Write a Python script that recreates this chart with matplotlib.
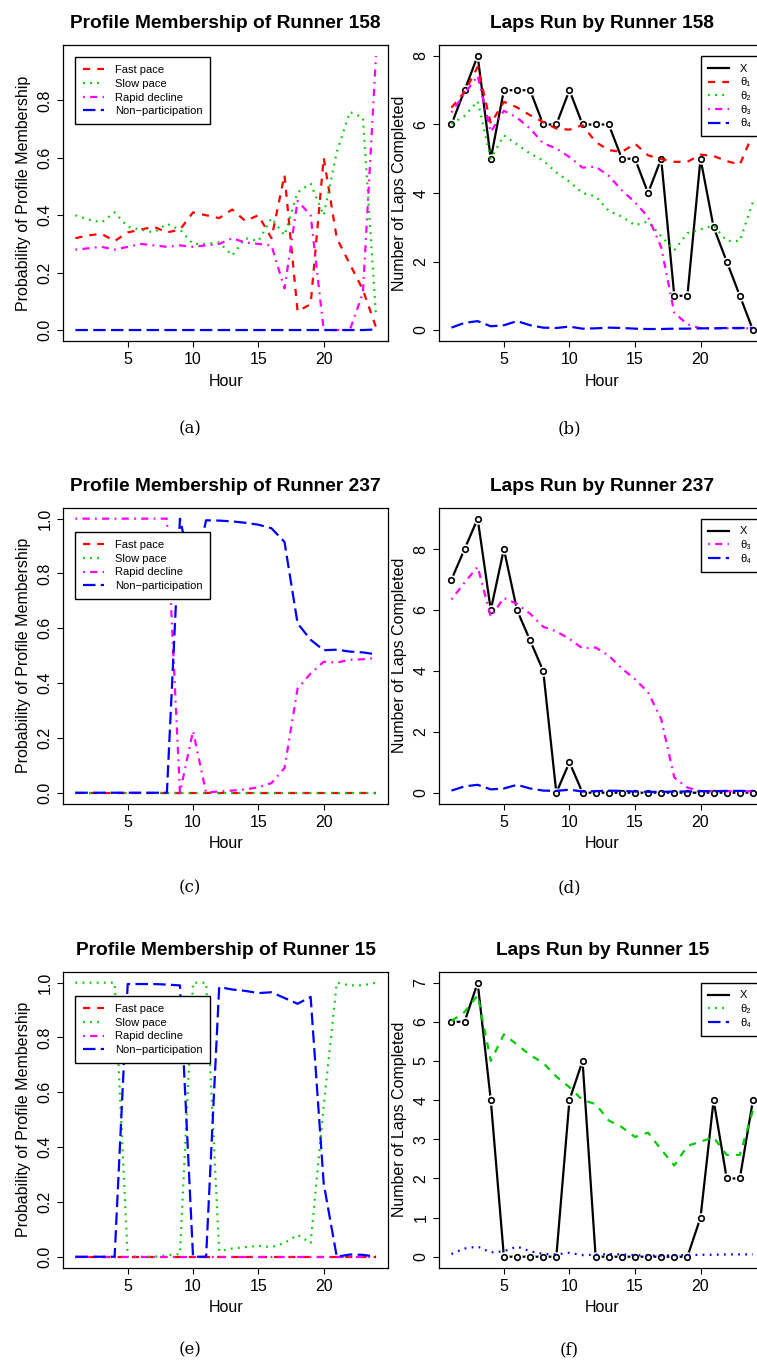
import matplotlib
matplotlib.use("Agg")
import matplotlib.pyplot as plt
import numpy as np
from matplotlib.lines import Line2D

plt.rcParams['font.family'] = ['Liberation Sans', 'DejaVu Sans']

hours = np.arange(1, 25)

# profile membership, runner 158
fast_158 = [0.32, 0.33, 0.335, 0.31, 0.34, 0.35, 0.36, 0.34, 0.35, 0.41, 0.40, 0.39,
            0.42, 0.38, 0.40, 0.32, 0.54, 0.065, 0.09, 0.60, 0.32, 0.23, 0.14, 0.01]
slow_158 = [0.40, 0.385, 0.375, 0.41, 0.36, 0.35, 0.34, 0.37, 0.35, 0.30, 0.30, 0.305,
            0.26, 0.32, 0.31, 0.39, 0.33, 0.48, 0.51, 0.40, 0.62, 0.76, 0.74, 0.05]
rapid_158 = [0.28, 0.285, 0.29, 0.28, 0.29, 0.30, 0.295, 0.29, 0.295, 0.29, 0.295, 0.30,
             0.32, 0.305, 0.30, 0.295, 0.145, 0.45, 0.40, 0.0, 0.0, 0.0, 0.13, 0.955]
nonpart_158 = [0.0, 0.0, 0.0, 0.0, 0.0, 0.0, 0.0, 0.0, 0.0, 0.0, 0.0, 0.0,
               0.0, 0.0, 0.0, 0.0, 0.0, 0.0, 0.0, 0.0, 0.0, 0.0, 0.0, 0.002]

# profile membership, runner 237
fast_237 = [0.0] * 24
slow_237 = [0.0] * 24
rapid_237 = [1.0, 1.0, 1.0, 1.0, 1.0, 1.0, 1.0, 1.0, 0.0, 0.225, 0.0, 0.005,
             0.008, 0.012, 0.02, 0.035, 0.09, 0.38, 0.435, 0.478, 0.475, 0.485, 0.487, 0.492]
nonpart_237 = [0.0, 0.0, 0.0, 0.0, 0.0, 0.0, 0.0, 0.0, 1.0, 0.78, 0.994, 0.993,
               0.99, 0.985, 0.978, 0.965, 0.915, 0.618, 0.558, 0.52, 0.522, 0.515, 0.512, 0.505]

# profile membership, runner 15
fast_15 = [0.0] * 24
slow_15 = [1.0, 1.0, 1.0, 1.0, 0.0, 0.0, 0.0, 0.005, 0.01, 1.0, 1.0, 0.02,
           0.03, 0.035, 0.04, 0.035, 0.05, 0.08, 0.05, 0.55, 1.0, 0.99, 0.99, 1.0]
rapid_15 = [0.0] * 24
nonpart_15 = [0.0, 0.0, 0.0, 0.0, 0.995, 0.995, 0.995, 0.993, 0.99, 0.0, 0.0, 0.984,
              0.975, 0.97, 0.962, 0.965, 0.944, 0.923, 0.948, 0.267, 0.0, 0.008, 0.007, 0.0]

# laps per hour
laps_158 = [6, 7, 8, 5, 7, 7, 7, 6, 6, 7, 6, 6, 6, 5, 5, 4, 5, 1, 1, 5, 3, 2, 1, 0]
laps_237 = [7, 8, 9, 6, 8, 6, 5, 4, 0, 1, 0, 0, 0, 0, 0, 0, 0, 0, 0, 0, 0, 0, 0, 0]
laps_15 = [6, 6, 7, 4, 0, 0, 0, 0, 0, 4, 5, 0, 0, 0, 0, 0, 0, 0, 0, 1, 4, 2, 2, 4]

# profile means
theta1 = [6.49, 6.95, 7.68, 6.03, 6.66, 6.5, 6.27, 6.07, 5.88, 5.85, 5.98, 5.49,
          5.25, 5.2, 5.44, 5.1, 4.99, 4.91, 4.91, 5.12, 5.08, 4.93, 4.83, 5.73]
theta2 = [6.02, 6.25, 6.68, 5.0, 5.68, 5.42, 5.15, 4.95, 4.6, 4.33, 4.0, 3.9,
          3.48, 3.31, 3.06, 3.17, 2.74, 2.33, 2.83, 2.94, 3.05, 2.6, 2.6, 3.74]
theta3 = [6.35, 6.9, 7.42, 5.78, 6.4, 6.2, 5.88, 5.45, 5.3, 5.05, 4.74, 4.77,
          4.5, 4.08, 3.73, 3.3, 2.42, 0.5, 0.17, 0.05, 0.05, 0.05, 0.05, 0.05]
theta4 = [0.07, 0.21, 0.26, 0.11, 0.14, 0.26, 0.14, 0.07, 0.06, 0.1, 0.04, 0.05,
          0.07, 0.06, 0.04, 0.03, 0.03, 0.04, 0.04, 0.05, 0.05, 0.06, 0.06, 0.06]

profile_names = ['Fast pace', 'Slow pace', 'Rapid decline', 'Non\u2212participation']
colors = ['red', '#00CD00', 'magenta', 'blue']
LS = {'dashed': (0, (3.2, 3.2)), 'dotted': (0, (0.8, 2.4)),
      'dotdash': (0, (0.8, 2.4, 3.2, 2.4)), 'longdash': (0, (5.6, 2.4))}
prof_ls = ['dashed', 'dotted', 'dotdash', 'longdash']
LW = 1.6

fig = plt.figure(figsize=(7.57, 13.7), dpi=100)
W, H = 757.0, 1370.0
row_tops = [45, 507.7, 971.7]
ax_h = 296.0


def make_axes(left, width, top):
    return fig.add_axes([left / W, 1 - (top + ax_h) / H, width / W, ax_h / H])


def style(ax, title, ylabel, yticks, ylabels):
    ax.margins(x=0.04, y=0.04)
    ax.set_title(title, fontsize=13.8, fontweight='bold', pad=12)
    ax.set_xlabel('Hour', fontsize=11.5, labelpad=5)
    ax.set_ylabel(ylabel, fontsize=11.5, labelpad=5)
    ax.set_xticks([5, 10, 15, 20])
    ax.set_yticks(yticks)
    ax.set_yticklabels(ylabels, rotation=90, va='center')
    ax.tick_params(direction='out', length=4.3, width=0.8, labelsize=11.5, pad=3.5)
    for s in ax.spines.values():
        s.set_linewidth(0.9)


def legend(ax, handles, labels, anchor):
    ax.legend(handles, labels, loc='upper left', bbox_to_anchor=anchor,
              bbox_transform=ax.transData, borderaxespad=0, fontsize=8,
              fancybox=False, edgecolor='black', framealpha=1, handlelength=1.9,
              handletextpad=0.95, borderpad=0.7, labelspacing=0.33)


def membership(top, runner, series):
    ax = make_axes(63.4, 324.6, top)
    for vals, c, ls in zip(series, colors, prof_ls):
        ax.plot(hours, vals, color=c, lw=LW, linestyle=LS[ls])
    if max(max(s) for s in series) > 0.97:
        yt = [0.0, 0.2, 0.4, 0.6, 0.8, 1.0]
    else:
        yt = [0.0, 0.2, 0.4, 0.6, 0.8]
    style(ax, 'Profile Membership of Runner %d' % runner,
          'Probability of Profile Membership', yt, ['%.1f' % t for t in yt])
    handles = [Line2D([], [], color=c, lw=LW, linestyle=LS[ls]) for c, ls in zip(colors, prof_ls)]
    legend(ax, handles, profile_names, (1, 0.95))
    return ax


def laps(top, runner, x, thetas):
    ax = make_axes(439.4, 325.6, top)
    ax.plot(hours, x, color='black', lw=LW)
    ax.plot(hours, x, ls='none', marker='o', ms=7.5, mfc='white', mec='none')
    ax.plot(hours, x, ls='none', marker='o', ms=4, mfc='none', mec='black', mew=1.2)
    handles = [Line2D([], [], color='black', lw=LW)]
    labels = ['X']
    for vals, c, ls_draw, ls_leg, lab in thetas:
        ax.plot(hours, vals, color=c, lw=LW, linestyle=LS[ls_draw])
        handles.append(Line2D([], [], color=c, lw=LW, linestyle=LS[ls_leg]))
        labels.append(lab)
    yt = list(range(0, max(x) + 1, 2)) if max(x) > 7 else list(range(0, max(x) + 1))
    style(ax, 'Laps Run by Runner %d' % runner, 'Number of Laps Completed',
          yt, [str(v) for v in yt])
    legend(ax, handles, labels, (20, max(x)))
    return ax


membership(row_tops[0], 158, [fast_158, slow_158, rapid_158, nonpart_158])
laps(row_tops[0], 158, laps_158,
     [(theta1, 'red', 'dashed', 'dashed', 'θ\u2081'),
      (theta2, '#00CD00', 'dotted', 'dotted', 'θ\u2082'),
      (theta3, 'magenta', 'dotdash', 'dotdash', 'θ\u2083'),
      (theta4, 'blue', 'longdash', 'longdash', 'θ\u2084')])

membership(row_tops[1], 237, [fast_237, slow_237, rapid_237, nonpart_237])
laps(row_tops[1], 237, laps_237,
     [(theta3, 'magenta', 'dotdash', 'dotdash', 'θ\u2083'),
      (theta4, 'blue', 'longdash', 'longdash', 'θ\u2084')])

membership(row_tops[2], 15, [fast_15, slow_15, rapid_15, nonpart_15])
laps(row_tops[2], 15, laps_15,
     [(theta2, '#00CD00', 'dashed', 'dotted', 'θ\u2082'),
      (theta4, 'blue', 'dotted', 'longdash', 'θ\u2084')])

captions = ['(a)', '(b)', '(c)', '(d)', '(e)', '(f)']
cap_y = [429, 888, 1350]
for i, cap in enumerate(captions):
    fig.text([190, 569][i % 2] / W, 1 - cap_y[i // 2] / H, cap, ha='center', va='center',
             fontsize=12, family=['DejaVu Serif'])

fig.savefig('out.png', dpi=100)
